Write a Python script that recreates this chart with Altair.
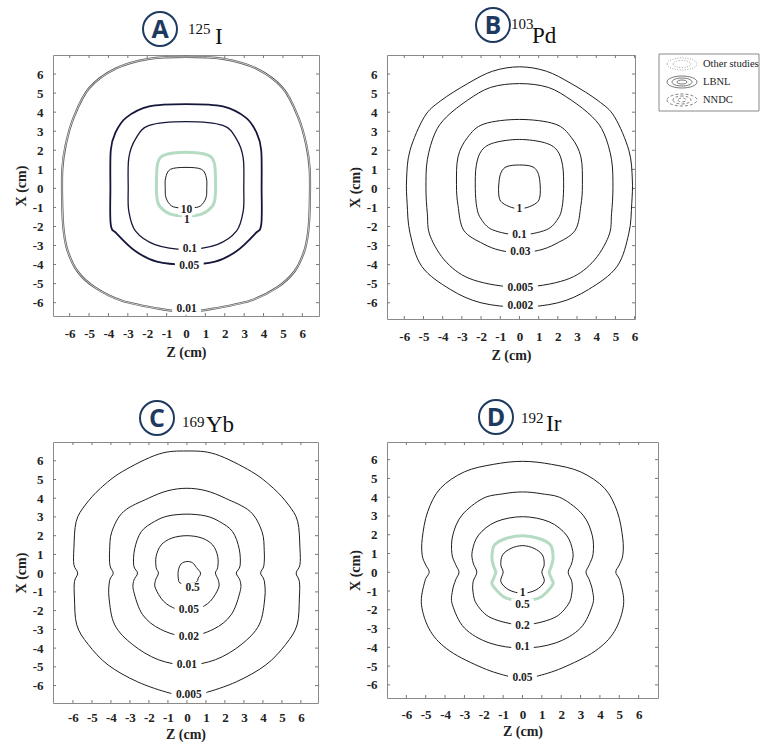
import altair as alt
import pandas as pd

# ---------------- data ----------------
TICKS = list(range(-6, 7))

panel_letters = ["A", "B", "C", "D"]
mass_numbers = ["125", "103", "169", "192"]
elements = ["I", "Pd", "Yb", "Ir"]
legend_labels = ["Other studies", "LBNL", "NNDC"]

# Isodose contours: right half (Z >= 0) listed from top to bottom, mirrored in Z
# Panel A  (125I)
A_10_z = [0, 0.8, 1.05, 1.07, 1.03, 0.75, 0.3, 0]
A_10_x = [1.1, 1.0, 0.55, 0, -0.5, -0.92, -1.03, -1.03]
A_1_z = [0, 1.1, 1.45, 1.52, 1.5, 1.35, 0.8, 0]
A_1_x = [1.9, 1.76, 1.35, 0.5, -0.5, -0.95, -1.35, -1.45]
A_01_z = [0, 1.9, 2.6, 2.95, 2.98, 2.95, 2.6, 1.6, 0]
A_01_x = [3.5, 3.3, 2.6, 1.6, 0, -1.2, -2.25, -2.95, -3.2]
A_005_z = [0, 1.9, 3.1, 3.65, 3.88, 3.9, 3.88, 3.55, 2.6, 1.5, 0]
A_005_x = [4.42, 4.3, 3.7, 2.9, 2.0, 0, -1.9, -2.4, -3.3, -3.85, -4.0]
A_001_z = [0, 1.9, 3.6, 5.0, 5.8, 6.2, 6.38, 6.38, 6.3, 6.1, 5.6, 4.7, 3.3, 1.2, 0]
A_001_x = [6.9, 6.8, 6.3, 5.25, 3.7, 2.3, 1.0, -1.0, -2.3, -3.3, -4.35, -5.2, -5.9, -6.35, -6.47]
A_labels = ["10", "1", "0.1", "0.05", "0.01"]
A_label_z = [0.03, 0.05, 0.2, 0.17, 0.03]
A_label_x = [-1.12, -1.68, -3.2, -4.05, -6.35]

# Panel B  (103Pd)
B_1_z = [0, 0.65, 0.95, 1.07, 1.07, 0.9, 0.4, 0]
B_1_x = [1.23, 1.15, 0.85, 0.3, -0.4, -0.75, -1.0, -1.04]
B_01_z = [0, 1.3, 1.96, 2.25, 2.3, 2.22, 2.0, 1.4, 0]
B_01_x = [2.57, 2.4, 2.0, 1.2, 0, -1.0, -1.6, -2.17, -2.44]
B_003_z = [0, 1.85, 2.7, 3.2, 3.28, 3.2, 2.9, 1.9, 1.0, 0]
B_003_x = [3.62, 3.38, 2.68, 1.66, 0.2, -0.9, -2.2, -2.9, -3.25, -3.36]
B_0005_z = [0, 1.5, 2.7, 3.8, 4.4, 4.8, 4.87, 4.8, 4.65, 3.78, 2.4, 0]
B_0005_x = [5.5, 5.3, 4.63, 3.75, 2.9, 1.5, 0, -1.3, -2.5, -3.9, -4.8, -5.18]
B_0002_z = [0, 1.4, 2.7, 4.1, 4.95, 5.7, 5.88, 5.85, 5.7, 5.08, 3.6, 2.0, 0]
B_0002_x = [6.38, 6.15, 5.5, 4.6, 3.76, 2.0, 0.5, -0.8, -2.35, -4.1, -5.3, -6.0, -6.22]
B_labels = ["1", "0.1", "0.03", "0.005", "0.002"]
B_label_z = [0.0, 0.0, 0.05, 0.05, 0.05]
B_label_x = [-1.1, -2.44, -3.36, -5.2, -6.15]

# Panel C  (169Yb)
C_05_z_full = [-0.3, -0.45, -0.45, -0.3, 0, 0.3, 0.5, 0.72, 0.6, 0.45]
C_05_x_full = [-0.55, -0.3, 0.15, 0.5, 0.62, 0.55, 0.3, 0, -0.25, -0.5]
C_005_z = [0, 0.8, 1.36, 1.62, 1.62, 1.5, 1.66, 1.66, 1.23, 0.6, 0]
C_005_x = [2.0, 1.87, 1.5, 0.9, 0.3, 0, -0.4, -0.8, -1.5, -1.9, -1.96]
C_002_z = [0, 1.0, 1.7, 2.4, 2.75, 2.8, 2.6, 2.8, 2.8, 2.33, 1.38, 0]
C_002_x = [3.15, 3.05, 2.76, 2.22, 1.3, 0.4, 0, -0.4, -0.98, -2.22, -3.0, -3.38]
C_001_z = [0, 1.0, 2.02, 3.33, 3.95, 4.07, 4.05, 3.88, 4.07, 4.1, 3.8, 2.85, 1.5, 0]
C_001_x = [4.53, 4.4, 4.0, 3.29, 2.22, 1.2, 0.4, 0, -0.4, -1.33, -2.76, -3.82, -4.62, -4.9]
C_0005_z = [0, 1.5, 3.4, 4.55, 5.35, 5.83, 5.95, 5.95, 5.75, 5.92, 5.92, 5.8, 5.2, 4.15, 2.6, 0.9, 0]
C_0005_x = [6.52, 6.35, 5.42, 4.53, 3.64, 2.76, 1.33, 0.45, 0, -0.45, -1.33, -2.76, -3.8, -4.9, -5.8, -6.4, -6.5]
C_labels = ["0.5", "0.05", "0.02", "0.01", "0.005"]
C_label_z = [0.3, 0.1, 0.1, 0.0, 0.1]
C_label_x = [-0.78, -1.96, -3.41, -4.89, -6.49]

# Panel D  (192Ir)
D_1_z = [0, 0.6, 1.03, 1.12, 1.0, 1.12, 0.7, 0]
D_1_x = [1.42, 1.27, 0.92, 0.4, 0, -0.5, -0.94, -1.12]
D_05_z = [0, 0.85, 1.45, 1.58, 1.5, 1.38, 1.5, 1.56, 1.0, 0.4, 0]
D_05_x = [1.95, 1.8, 1.45, 0.8, 0.35, 0, -0.35, -0.67, -1.29, -1.5, -1.56]
D_02_z = [0, 1.37, 2.27, 2.6, 2.55, 2.36, 2.55, 2.55, 2.35, 1.6, 0]
D_02_x = [2.96, 2.69, 1.98, 1.1, 0.5, 0, -0.5, -1.1, -1.73, -2.44, -2.8]
D_01_z = [0, 1.0, 2.05, 3.13, 3.6, 3.65, 3.45, 3.28, 3.45, 3.62, 3.62, 3.0, 1.7, 0]
D_01_x = [4.28, 4.18, 3.93, 3.04, 1.98, 1.0, 0.4, 0, -0.4, -1.0, -1.73, -2.97, -3.77, -4.04]
D_005_z = [0, 1.5, 3.0, 4.25, 4.9, 5.18, 5.18, 5.0, 4.82, 5.05, 5.22, 4.75, 3.75, 2.05, 0.7, 0]
D_005_x = [5.91, 5.75, 5.35, 4.46, 3.22, 1.8, 0.9, 0.39, 0, -0.5, -1.73, -3.15, -4.2, -5.1, -5.55, -5.63]
D_labels = ["1", "0.5", "0.2", "0.1", "0.05"]
D_label_z = [0.0, 0.0, 0.0, 0.0, 0.0]
D_label_x = [-1.08, -1.72, -2.85, -4.0, -5.63]

# ---------------- helpers ----------------
SERIF = "Liberation Serif"
NAVY = "#1f3a60"


def half_loop(z, x):
    pts = list(zip(z, x))
    full = pts + [(-a, b) for a, b in reversed(pts[1:-1])]
    return pd.DataFrame({"z": [p[0] for p in full], "x": [p[1] for p in full],
                         "i": list(range(len(full)))})


def full_loop(z, x):
    pts = list(zip(z, x))
    return pd.DataFrame({"z": [p[0] for p in pts], "x": [p[1] for p in pts],
                         "i": list(range(len(pts)))})


def label_df(labels, z, x):
    return pd.DataFrame({"label": labels, "z": z, "x": x,
                         "box": [f"M {-(3.1 * len(s) + 2)} -5.5 H {3.1 * len(s) + 2} V 5.5 H {-(3.1 * len(s) + 2)} Z" for s in labels]})


def ellipse(rx, ry):
    return f"M {-rx} 0 A {rx} {ry} 0 1 0 {rx} 0 A {rx} {ry} 0 1 0 {-rx} 0 Z"


THIN = dict(color="#1e1e1e", strokeWidth=1)
GREEN = dict(color="#b5dcc3", strokeWidth=3)


def panel(k, xdom, ydom, w, h, lines, lab, tpos, legend=False, xlab_pad=11, xtitle_pad=5):
    xs = alt.Scale(domain=xdom, nice=False, zero=False)
    ys = alt.Scale(domain=ydom, nice=False, zero=False)
    ax = alt.Axis(values=TICKS, title="Z (cm)", labelExpr="'' + datum.value",
                  labelPadding=xlab_pad, titlePadding=xtitle_pad, ticks=False, tickSize=0,
                  domain=False, grid=False, labelFlush=False, labelOverlap=False)
    ay = alt.Axis(values=TICKS, title="X (cm)", labelExpr="'' + datum.value",
                  labelPadding=10, titlePadding=4, ticks=False, tickSize=0,
                  domain=False, grid=False, labelFlush=False, labelOverlap=False)

    def X(f):
        return alt.X(f, scale=xs, axis=ax)

    def Y(f):
        return alt.Y(f, scale=ys, axis=ay)

    tk = alt.Chart(pd.DataFrame({"t": TICKS}))
    rule = dict(color="#777", strokeWidth=1)
    layers = [
        tk.mark_rule(**rule).encode(x=X("t:Q"), y=alt.value(0), y2=alt.value(3)),
        tk.mark_rule(**rule).encode(x=X("t:Q"), y=alt.value(h - 3), y2=alt.value(h)),
        tk.mark_rule(**rule).encode(y=Y("t:Q"), x=alt.value(0), x2=alt.value(3)),
        tk.mark_rule(**rule).encode(y=Y("t:Q"), x=alt.value(w - 3), x2=alt.value(w)),
    ]
    for df, st in lines:
        layers.append(alt.Chart(df).mark_line(clip=True, interpolate="cardinal-closed", **st).encode(
            x=X("z:Q"), y=Y("x:Q"), order="i:Q"))
    layers.append(alt.Chart(lab).mark_point(filled=True, fill="white", opacity=1, strokeWidth=0,
                                            size=4).encode(
        x=X("z:Q"), y=Y("x:Q"), shape=alt.Shape("box:N", scale=None)))
    layers.append(alt.Chart(lab).mark_text(font=SERIF, fontSize=11.5, fontWeight="bold",
                                           color="#222", baseline="middle").encode(
        x=X("z:Q"), y=Y("x:Q"), text="label:N"))

    tdf = pd.DataFrame({"letter": [panel_letters[k]], "mass": [mass_numbers[k]],
                        "elem": [elements[k]]})
    one = alt.Chart(tdf)
    (cx, cy), (mx, my), (ex, ey) = tpos
    layers += [
        one.mark_point(shape="circle", size=1156, filled=False, color=NAVY, strokeWidth=2,
                       opacity=1).encode(x=alt.value(cx), y=alt.value(cy)),
        one.mark_text(font="Open Sans", fontWeight="bold", fontSize=25, color=NAVY,
                      align="center", baseline="middle").encode(
            x=alt.value(cx), y=alt.value(cy + 1), text="letter:N"),
        one.mark_text(font=SERIF, fontSize=15, color="#111", align="left",
                      baseline="alphabetic").encode(
            x=alt.value(mx), y=alt.value(my), text="mass:N"),
        one.mark_text(font=SERIF, fontSize=23, color="#111", align="left",
                      baseline="alphabetic").encode(
            x=alt.value(ex), y=alt.value(ey), text="elem:N"),
    ]

    if legend:
        lx0, ly0 = 272, -1
        layers.append(one.mark_rect(fill="white", stroke="#8a8a8a", strokeWidth=1).encode(
            x=alt.value(lx0), x2=alt.value(lx0 + 100), y=alt.value(ly0), y2=alt.value(ly0 + 57)))
        rows = [ly0 + 10, ly0 + 28, ly0 + 46]
        icx = lx0 + 23
        for rx, ry in [(15, 6), (9, 3.5)]:
            layers.append(one.mark_point(shape=ellipse(rx, ry), size=4, filled=False,
                                         color="#a8a8a8", strokeWidth=1, strokeDash=[1, 1.5],
                                         opacity=1).encode(x=alt.value(icx), y=alt.value(rows[0])))
        for rx, ry in [(15, 6), (10, 4), (5, 2)]:
            layers.append(one.mark_point(shape=ellipse(rx, ry), size=4, filled=False,
                                         color="#555", strokeWidth=0.8,
                                         opacity=1).encode(x=alt.value(icx), y=alt.value(rows[1])))
        for rx, ry in [(15, 6), (9, 4), (4, 2)]:
            layers.append(one.mark_point(shape=ellipse(rx, ry), size=4, filled=False,
                                         color="#666", strokeWidth=0.8, strokeDash=[3, 2],
                                         opacity=1).encode(x=alt.value(icx), y=alt.value(rows[2])))
        ldf = pd.DataFrame({"lab": legend_labels, "row": [0, 1, 2]})
        for r in range(3):
            layers.append(alt.Chart(ldf[ldf.row == r]).mark_text(
                font=SERIF, fontSize=10.5, color="#222", align="left", baseline="middle").encode(
                x=alt.value(lx0 + 44), y=alt.value(rows[r]), text="lab:N"))

    return alt.layer(*layers).properties(width=w, height=h)


A = panel(0, [-6.86, 6.86], [-6.7, 7.0], 266, 261, [
    (half_loop(A_001_z, A_001_x), dict(color="#555", strokeWidth=2.2)),
    (half_loop(A_001_z, A_001_x), dict(color="white", strokeWidth=0.7)),
    (half_loop(A_005_z, A_005_x), dict(color="#15173a", strokeWidth=1.8)),
    (half_loop(A_01_z, A_01_x), dict(color="#15173a", strokeWidth=1.3)),
    (half_loop(A_1_z, A_1_x), GREEN),
    (half_loop(A_10_z, A_10_x), THIN),
], label_df(A_labels, A_label_z, A_label_x), ((107, -26), (135, -21), (162, -11)))

B = panel(1, [-6.9, 6.02], [-6.85, 7.0], 248, 264, [
    (half_loop(B_0002_z, B_0002_x), THIN),
    (half_loop(B_0005_z, B_0005_x), THIN),
    (half_loop(B_003_z, B_003_x), THIN),
    (half_loop(B_01_z, B_01_x), THIN),
    (half_loop(B_1_z, B_1_x), THIN),
], label_df(B_labels, B_label_z, B_label_x), ((106, -30), (124, -26), (145, -12)), legend=True)

C = panel(2, [-7.05, 6.9], [-6.93, 7.0], 265, 261, [
    (half_loop(C_0005_z, C_0005_x), THIN),
    (half_loop(C_001_z, C_001_x), THIN),
    (half_loop(C_002_z, C_002_x), THIN),
    (half_loop(C_005_z, C_005_x), THIN),
    (full_loop(C_05_z_full, C_05_x_full), THIN),
], label_df(C_labels, C_label_z, C_label_x), ((104, -24), (129, -15), (153, -10)),
    xlab_pad=8, xtitle_pad=3)

D = panel(3, [-7.0, 7.0], [-6.7, 6.94], 271, 256, [
    (half_loop(D_005_z, D_005_x), THIN),
    (half_loop(D_01_z, D_01_x), THIN),
    (half_loop(D_02_z, D_02_x), THIN),
    (half_loop(D_05_z, D_05_x), GREEN),
    (half_loop(D_1_z, D_1_x), THIN),
], label_df(D_labels, D_label_z, D_label_x), ((109, -25), (134, -19), (159, -11)),
    xlab_pad=10, xtitle_pad=3)

chart = alt.vconcat(
    alt.hconcat(A, B, spacing=27),
    alt.hconcat(C, D, spacing=28),
    spacing=32,
).properties(
    padding={"left": 13, "top": 3, "right": 0, "bottom": 0}
).configure_view(
    stroke="#8a8a8a", strokeWidth=1
).configure_axis(
    labelFont=SERIF, labelFontSize=13, labelFontWeight="bold", labelColor="#222",
    titleFont=SERIF, titleFontSize=14, titleFontWeight="bold", titleColor="#222",
)

chart.save("out.html", embed_options={"renderer": "svg", "actions": False})
